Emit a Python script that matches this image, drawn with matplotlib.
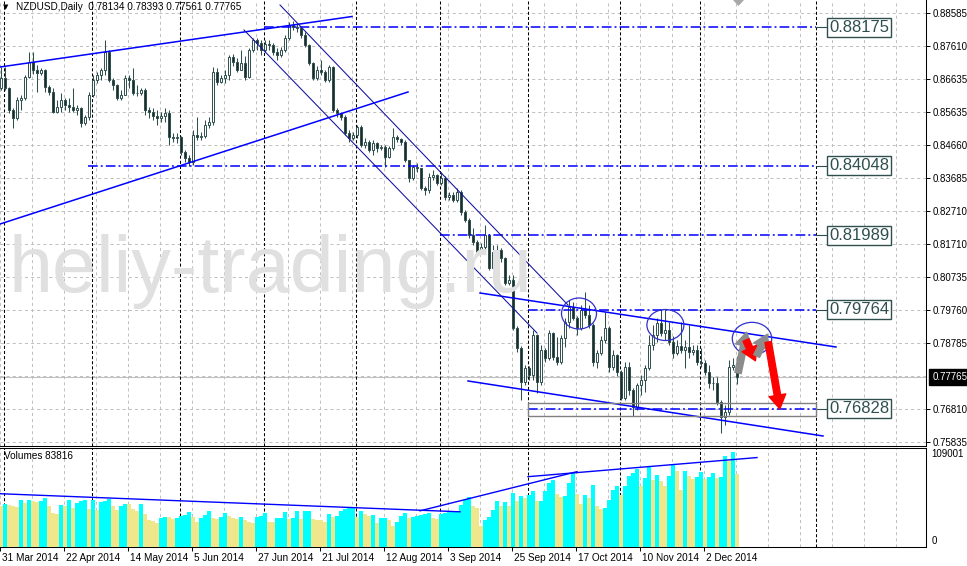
import matplotlib
matplotlib.use("Agg")
import matplotlib.pyplot as plt
from matplotlib.patches import Rectangle, Ellipse, FancyArrowPatch, Polygon

plt.rcParams["lines.scale_dashes"] = False
plt.rcParams["font.family"] = ["Liberation Sans", "DejaVu Sans"]

# ── data: NZDUSD daily, 31 Mar 2014 .. 12 Dec 2014 (bar index 0..184) ──────
first_open = 0.8636
closes = [
    0.8666, 0.8636, 0.8571, 0.8547, 0.8601, 0.8606, 0.8669, 0.8714, 0.8690, 0.8681,
    0.8690, 0.8639, 0.8624, 0.8565, 0.8580, 0.8601, 0.8586, 0.8580, 0.8571, 0.8577,
    0.8532, 0.8550, 0.8615, 0.8660, 0.8675, 0.8690, 0.8743, 0.8660, 0.8645, 0.8606,
    0.8615, 0.8666, 0.8660, 0.8621, 0.8621, 0.8630, 0.8571, 0.8565, 0.8553, 0.8547,
    0.8553, 0.8562, 0.8490, 0.8487, 0.8490, 0.8446, 0.8428, 0.8416, 0.8497, 0.8490,
    0.8493, 0.8526, 0.8535, 0.8684, 0.8654, 0.8666, 0.8675, 0.8729, 0.8714, 0.8690,
    0.8711, 0.8669, 0.8749, 0.8779, 0.8770, 0.8749, 0.8767, 0.8764, 0.8743, 0.8735,
    0.8749, 0.8785, 0.8824, 0.8818, 0.8815, 0.8794, 0.8764, 0.8711, 0.8666, 0.8690,
    0.8684, 0.8660, 0.8699, 0.8571, 0.8562, 0.8550, 0.8502, 0.8487, 0.8497, 0.8520,
    0.8467, 0.8476, 0.8452, 0.8473, 0.8458, 0.8461, 0.8431, 0.8458, 0.8490, 0.8485,
    0.8476, 0.8422, 0.8368, 0.8401, 0.8398, 0.8339, 0.8333, 0.8372, 0.8378, 0.8354,
    0.8368, 0.8312, 0.8318, 0.8303, 0.8327, 0.8267, 0.8244, 0.8199, 0.8178, 0.8148,
    0.8163, 0.8199, 0.8101, 0.8148, 0.8154, 0.8131, 0.8056, 0.8065, 0.7922, 0.7863,
    0.7762, 0.7803, 0.7783, 0.7902, 0.7762, 0.7857, 0.7833, 0.7907, 0.7836, 0.7821,
    0.7893, 0.7940, 0.7985, 0.7952, 0.7922, 0.7976, 0.7961, 0.7931, 0.7821, 0.7848,
    0.7887, 0.7922, 0.7806, 0.7842, 0.7791, 0.7714, 0.7806, 0.7738, 0.7687, 0.7753,
    0.7768, 0.7803, 0.7872, 0.7902, 0.7937, 0.7907, 0.7916, 0.7881, 0.7848, 0.7869,
    0.7857, 0.7866, 0.7851, 0.7857, 0.7821, 0.7818, 0.7791, 0.7759, 0.7759, 0.7702,
    0.7658, 0.7673, 0.7806, 0.78134, 0.77765,
]
highs = [
    0.8699, 0.8699, 0.8639, 0.8577, 0.8609, 0.8615, 0.8675, 0.8743, 0.8743, 0.8705,
    0.8696, 0.8693, 0.8645, 0.8636, 0.8601, 0.8621, 0.8606, 0.8606, 0.8636, 0.8586,
    0.8580, 0.8556, 0.8624, 0.8675, 0.8684, 0.8696, 0.8779, 0.8749, 0.8666, 0.8648,
    0.8630, 0.8675, 0.8675, 0.8696, 0.8645, 0.8636, 0.8636, 0.8580, 0.8577, 0.8571,
    0.8565, 0.8577, 0.8571, 0.8502, 0.8502, 0.8493, 0.8452, 0.8437, 0.8511, 0.8550,
    0.8505, 0.8541, 0.8550, 0.8699, 0.8696, 0.8675, 0.8690, 0.8735, 0.8738, 0.8726,
    0.8749, 0.8732, 0.8755, 0.8785, 0.8785, 0.8779, 0.8779, 0.8779, 0.8770, 0.8755,
    0.8758, 0.8794, 0.8833, 0.8836, 0.8827, 0.8818, 0.8803, 0.8767, 0.8714, 0.8702,
    0.8720, 0.8690, 0.8705, 0.8702, 0.8577, 0.8565, 0.8556, 0.8511, 0.8505, 0.8526,
    0.8526, 0.8487, 0.8482, 0.8482, 0.8476, 0.8467, 0.8467, 0.8464, 0.8517, 0.8497,
    0.8487, 0.8482, 0.8422, 0.8407, 0.8413, 0.8398, 0.8345, 0.8383, 0.8392, 0.8380,
    0.8386, 0.8375, 0.8327, 0.8327, 0.8339, 0.8333, 0.8273, 0.8250, 0.8220, 0.8184,
    0.8175, 0.8229, 0.8202, 0.8169, 0.8169, 0.8160, 0.8134, 0.8080, 0.8080, 0.7928,
    0.7869, 0.7812, 0.7809, 0.7916, 0.7906, 0.7872, 0.7863, 0.7916, 0.7910, 0.7896,
    0.7902, 0.7952, 0.8006, 0.8000, 0.7958, 0.7991, 0.8030, 0.7991, 0.7937, 0.7857,
    0.7899, 0.7970, 0.7928, 0.7857, 0.7845, 0.7797, 0.7821, 0.7821, 0.7744, 0.7759,
    0.7783, 0.7812, 0.7902, 0.7931, 0.7952, 0.7976, 0.7976, 0.7940, 0.7899, 0.7887,
    0.7940, 0.7887, 0.7931, 0.7872, 0.7872, 0.7863, 0.7827, 0.7812, 0.7777, 0.7777,
    0.7708, 0.7694, 0.7827, 0.7833, 0.78393,
]
lows = [
    0.8630, 0.8630, 0.8562, 0.8517, 0.8541, 0.8571, 0.8601, 0.8666, 0.8678, 0.8624,
    0.8675, 0.8624, 0.8615, 0.8562, 0.8562, 0.8565, 0.8571, 0.8565, 0.8565, 0.8556,
    0.8520, 0.8526, 0.8541, 0.8609, 0.8651, 0.8660, 0.8675, 0.8654, 0.8630, 0.8601,
    0.8601, 0.8615, 0.8636, 0.8615, 0.8612, 0.8615, 0.8556, 0.8547, 0.8541, 0.8526,
    0.8535, 0.8535, 0.8467, 0.8476, 0.8473, 0.8437, 0.8416, 0.8404, 0.8407, 0.8482,
    0.8482, 0.8487, 0.8517, 0.8526, 0.8645, 0.8651, 0.8651, 0.8660, 0.8702, 0.8684,
    0.8690, 0.8660, 0.8666, 0.8743, 0.8749, 0.8735, 0.8743, 0.8749, 0.8735, 0.8720,
    0.8729, 0.8743, 0.8779, 0.8809, 0.8803, 0.8785, 0.8758, 0.8705, 0.8660, 0.8660,
    0.8675, 0.8654, 0.8654, 0.8565, 0.8550, 0.8541, 0.8497, 0.8476, 0.8482, 0.8487,
    0.8461, 0.8458, 0.8446, 0.8437, 0.8446, 0.8452, 0.8401, 0.8428, 0.8452, 0.8476,
    0.8467, 0.8416, 0.8357, 0.8363, 0.8386, 0.8333, 0.8318, 0.8324, 0.8363, 0.8348,
    0.8348, 0.8303, 0.8303, 0.8297, 0.8297, 0.8258, 0.8238, 0.8190, 0.8169, 0.8139,
    0.8148, 0.8154, 0.8095, 0.8095, 0.8131, 0.8119, 0.8050, 0.8050, 0.7916, 0.7851,
    0.7708, 0.7753, 0.7768, 0.7768, 0.7729, 0.7753, 0.7821, 0.7827, 0.7827, 0.7812,
    0.7815, 0.7866, 0.7922, 0.7946, 0.7902, 0.7916, 0.7952, 0.7922, 0.7809, 0.7803,
    0.7842, 0.7878, 0.7791, 0.7797, 0.7779, 0.7708, 0.7708, 0.7723, 0.7661, 0.7679,
    0.7723, 0.7732, 0.7797, 0.7857, 0.7881, 0.7899, 0.7887, 0.7872, 0.7833, 0.7842,
    0.7848, 0.7803, 0.7833, 0.7842, 0.7812, 0.7806, 0.7783, 0.7744, 0.7738, 0.7693,
    0.7610, 0.7634, 0.7664, 0.7797, 0.77561,
]
volumes = [
    46600, 49700, 48600, 46600, 45500, 54300, 50500, 54300, 52400, 51300,
    52400, 56300, 46600, 38900, 38200, 48600, 47400, 54300, 44700, 50500,
    52400, 53600, 43600, 54300, 42800, 51300, 53200, 55100, 46600, 42800,
    46600, 49700, 49700, 43600, 40900, 49700, 38200, 30500, 30100, 27400,
    33200, 34300, 34300, 32400, 33200, 35900, 37000, 40100, 34300, 29300,
    33900, 37000, 41600, 33200, 32400, 34300, 38900, 35100, 33200, 32000,
    34300, 31200, 29300, 27400, 34300, 35100, 38900, 29300, 29300, 33200,
    33900, 39700, 32000, 33200, 40900, 32000, 40900, 41600, 32000, 31200,
    30500, 29300, 38200, 34300, 35100, 40900, 43900, 44300, 44700, 34300,
    40900, 38200, 35100, 37000, 28100, 32800, 33200, 31200, 24300, 29300,
    35100, 38900, 33200, 34300, 35900, 37000, 38200, 38900, 33200, 32000,
    38200, 38900, 39700, 40900, 41600, 48600, 54300, 57400, 46600, 44700,
    24300, 31200, 34300, 42800, 52400, 46600, 51300, 46600, 62100, 53200,
    58200, 56300, 60100, 64000, 52400, 53200, 64000, 73600, 77500, 61300,
    57400, 59000, 73600, 85200, 61300, 49700, 60100, 56300, 71700, 46600,
    43900, 44700, 54300, 65900, 69800, 60100, 69800, 81300, 85200, 89800,
    69800, 79400, 91700, 77500, 83200, 76300, 70500, 82100, 94000, 87900,
    65900, 87900, 82100, 78600, 80500, 86700, 78200, 80500, 85200, 79400,
    80500, 104400, 98700, 109001, 83816,
]

price_ticks = [0.88585, 0.87610, 0.86635, 0.85635, 0.84660, 0.83685, 0.82710,
               0.81710, 0.80735, 0.79760, 0.78785, 0.76810, 0.75835]
unlabelled_grid = [0.77810]
last_price = 0.77765
month_starts = [1, 23, 45, 66, 89, 110, 132, 155, 175, 204]
date_bars = [0, 16, 32, 48, 64, 80, 96, 112, 128, 144, 160, 176]
date_labels = ["31 Mar 2014", "22 Apr 2014", "14 May 2014", "5 Jun 2014",
               "27 Jun 2014", "21 Jul 2014", "12 Aug 2014", "3 Sep 2014",
               "25 Sep 2014", "17 Oct 2014", "10 Nov 2014", "2 Dec 2014"]

# analyst drawings (bar index, price)
levels = [0.88175, 0.84048, 0.81989, 0.79764, 0.76828]
level_from = [65.75, 21.75, 109.75, 131.75, 131.75]
level_to = 203.75
trend_thick = [((-0.25, 0.86988), (87.75, 0.88490)),
               ((-0.25, 0.82318), (101.75, 0.86245)),
               ((119.75, 0.80266), (208.75, 0.78660)),
               ((116.75, 0.77649), (205.5, 0.76013))]
trend_thin = [((69.75, 0.88832), (141.75, 0.79909)),
              ((60.75, 0.88089), (134.0, 0.79076))]
zone = (131.75, 0.76607, 203.67, 0.76985)
ellipses = [(144.5, 0.79656, 8.75, 0.00922),
            (166.1, 0.79314, 9.25, 0.00922),
            (187.75, 0.78907, 9.85, 0.00973)]
arrows = [((184.25, 0.77886), (186.4, 0.79100), "#8c8c8c"),
          ((186.25, 0.78868), (188.6, 0.78250), "#ff0000"),
          ((188.9, 0.78392), (191.6, 0.79040), "#8c8c8c"),
          ((191.8, 0.78808), (194.7, 0.76820), "#ff0000")]
vol_trend = [((-0.25, 61300), (114.75, 40500)),
             ((104.75, 41600), (144.0, 86700)),
             ((131.75, 80900), (189.0, 102900))]

# ── canvas ───────────────────────────────────────────────────────────────────
W, H = 967, 566
fig = plt.figure(figsize=(W / 100, H / 100), dpi=100)
fig.patch.set_facecolor("white")

EDGE = "#2f4f4f"
BEAR = "#1e2b2b"
GRID = "#c0c0c0"
BLUE = "#0000ff"
AQUA = "#00ffff"
KHAKI = "#f0e68c"
DASH = (0, (2.2, 2.2))
DOT = (0, (2.2, 1.5))
DASHDOT = (0, (7, 2.2, 1.4, 2.2))

ax = fig.add_axes([0, 1 - 446 / H, 926 / W, 446 / H])
axv = fig.add_axes([0, 1 - 547 / H, 926 / W, 99 / H], sharex=ax)
ax.set_xlim(-0.25, 231.25)
ax.set_ylim(0.75715, 0.88981)
axv.set_ylim(0, 113900)

# watermark
fig.text(9 / W, 1 - 292 / H, "heliy-trading.ru", fontsize=57, color="#e0e0e0",
         ha="left", va="baseline", zorder=0)
ax.patch.set_alpha(0)
axv.patch.set_alpha(0)

# grid + period separators
for k in range(0, 29):
    for a in (ax, axv):
        a.axvline(8 * k - 0.175, color=GRID, lw=0.72, ls=DASH, zorder=1)
for m in month_starts:
    for a in (ax, axv):
        a.axvline(m - 0.175, color="black", lw=0.75, ls=DOT, zorder=1.5)
for v in price_ticks + unlabelled_grid:
    ax.axhline(v, color=GRID, lw=0.72, ls=DASH, zorder=1)
ax.axhline(last_price, color=GRID, lw=0.75, zorder=1.2)

# candles
n = len(closes)
xs = list(range(n))
opens = [first_open] + closes[:-1]
ax.vlines(xs, lows, highs, color=EDGE, lw=0.75, zorder=4)
ax.bar(xs, [c - o for o, c in zip(opens, closes)], bottom=opens, width=0.55,
       color=["white" if c >= o else BEAR for o, c in zip(opens, closes)],
       edgecolor=EDGE, linewidth=0.7, zorder=5)

# levels + labels
for lv, x0 in zip(levels, level_from):
    ax.plot([x0, level_to], [lv, lv], color=BLUE, lw=1.1, ls=DASHDOT, zorder=6)
    ax.plot([level_to, 206.5], [lv, lv], color=EDGE, lw=0.8, zorder=6)
    ax.text(207.0, lv, f"{lv:.5f}", fontsize=12, color=EDGE, ha="left", va="center",
            zorder=8, bbox=dict(boxstyle="square,pad=0.12", fc="white", ec=EDGE, lw=1.0))

for (x0, y0), (x1, y1) in trend_thick:
    ax.plot([x0, x1], [y0, y1], color=BLUE, lw=1.1, zorder=6)
for (x0, y0), (x1, y1) in trend_thin:
    ax.plot([x0, x1], [y0, y1], color="#1010a0", lw=0.75, zorder=6)

ax.add_patch(Rectangle((zone[0], zone[1]), zone[2] - zone[0], zone[3] - zone[1],
                       fill=False, ec="#808080", lw=1.0, zorder=6))
for cx, cy, w, h in ellipses:
    ax.add_patch(Ellipse((cx, cy), w, h, fill=False, ec="#3030d0", lw=0.9, zorder=7))
for p0, p1, col in arrows:
    ax.add_patch(FancyArrowPatch(p0, p1,
                                 arrowstyle="simple,head_length=0.9,head_width=1.1,tail_width=0.42",
                                 mutation_scale=11, color=col, shrinkA=0, shrinkB=0, zorder=8))

# chart-shift marker
fig.patches.append(Polygon([(733 / W, 1.0), (744 / W, 1.0), (738.5 / W, 1 - 6 / H)],
                           closed=True, fc="#a8a8a8", ec="none", transform=fig.transFigure))

# volumes
vcol = [KHAKI] + [AQUA if v > p else KHAKI for p, v in zip(volumes[:-1], volumes[1:])]
axv.bar(xs, volumes, width=0.8, color=vcol, linewidth=0, zorder=3)
for (x0, y0), (x1, y1) in vol_trend:
    axv.plot([x0, x1], [y0, y1], color=BLUE, lw=1.0, zorder=6)

# axes styling
for a in (ax, axv):
    a.spines["left"].set_visible(False)
    a.spines["right"].set_linewidth(0.75)
ax.spines["top"].set_visible(False)
ax.spines["bottom"].set_linewidth(0.75)
axv.spines["top"].set_linewidth(0.75)
axv.spines["bottom"].set_linewidth(0.75)

ax.yaxis.tick_right()
ax.set_yticks(price_ticks)
ax.set_yticklabels([f"{v:.5f}" for v in price_ticks])
ax.tick_params(axis="y", length=3, width=0.7, pad=2, labelsize=7)
ax.tick_params(axis="x", bottom=False, labelbottom=False)

axv.set_yticks([])
axv.set_xticks([b - 0.175 for b in date_bars])
axv.set_xticklabels([])
axv.tick_params(axis="x", length=3, width=0.7)
for b, lab in zip(date_bars, date_labels):
    axv.annotate(lab, xy=(b, 0), xycoords=("data", "axes fraction"), xytext=(0.5, -7.9),
                 textcoords="offset points", ha="left", va="center", fontsize=7.2,
                 annotation_clip=False)

ax.annotate(f"{last_price:.5f}", xy=(1, last_price), xycoords=("axes fraction", "data"),
            xytext=(4.5, 0), textcoords="offset points", ha="left", va="center",
            fontsize=7, color="white", annotation_clip=False,
            bbox=dict(boxstyle="square,pad=0.3", fc="black", ec="black"))

axv.annotate("109001", xy=(1, 109001), xycoords=("axes fraction", "data"), xytext=(4, -1),
             textcoords="offset points", ha="left", va="center", fontsize=7,
             annotation_clip=False)
axv.annotate("0", xy=(1, 0), xycoords=("axes fraction", "data"), xytext=(4, 4.3),
             textcoords="offset points", ha="left", va="center", fontsize=7,
             annotation_clip=False)

# header texts
fig.text(3 / W, 1 - 7 / H, "\u25bc", fontsize=5, family="DejaVu Sans", va="center")
fig.text(16 / W, 1 - 7 / H, "NZDUSD,Daily  0.78134 0.78393 0.77561 0.77765",
         fontsize=7.2, va="center")
fig.text(4 / W, 1 - 456 / H, "Volumes 83816", fontsize=7.2, va="center")

fig.savefig("out.png", dpi=100, facecolor="white")
